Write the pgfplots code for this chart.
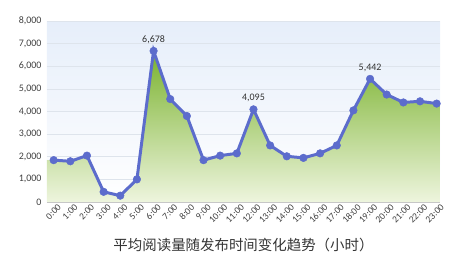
\documentclass[border=0pt]{standalone}
\usepackage{pgfplots}
\pgfplotsset{compat=1.18}
\usepackage{fontspec}
\setmainfont{Carlito}
\newfontfamily\cjk{Noto Sans CJK SC}
\definecolor{linec}{RGB}{92,108,204}
\definecolor{greentop}{RGB}{122,178,46}
\definecolor{greenbot}{RGB}{238,245,222}
\definecolor{bgtop}{RGB}{230,238,250}
\definecolor{gridc}{RGB}{222,228,236}
\begin{document}
\begin{tikzpicture}
\begin{axis}[
  scale only axis, width=393bp, height=181bp,
  xmin=-0.4, xmax=23.2, ymin=0, ymax=8000,
  axis line style={draw=none},
  major tick length=0,
  xtick={0,...,23},
  xticklabels={0:00,1:00,2:00,3:00,4:00,5:00,6:00,7:00,8:00,9:00,10:00,11:00,12:00,13:00,14:00,15:00,16:00,17:00,18:00,19:00,20:00,21:00,22:00,23:00},
  x tick label style={rotate=45, anchor=north east, font=\fontsize{9.5}{10}\selectfont, color=black!75, inner sep=0.5pt, xshift=2bp, yshift=-3bp},
  ytick={0,1000,...,8000},
  y tick label style={font=\fontsize{10}{10}\selectfont, color=black!75, xshift=-2bp},
  yticklabel style={/pgf/number format/.cd, 1000 sep={,}, assume math mode=true},
  ymajorgrids, grid style={gridc, line width=0.6pt},
  axis background/.style={top color=bgtop, bottom color=white},
  xlabel={平均阅读量随发布时间变化趋势（小时）},
  xlabel style={font=\cjk\fontsize{14.5}{15}\selectfont, color=black!80, yshift=-10bp},
  clip=false,
]
\addplot[draw=none, top color=greentop, bottom color=greenbot, forget plot]
 coordinates {(-0.4,1850)(0,1850)(1,1800)(2,2050)(3,450)(4,280)(5,1000)(6,6678)(7,4550)(8,3800)(9,1850)(10,2050)(11,2150)(12,4095)(13,2500)(14,2020)(15,1950)(16,2150)(17,2500)(18,4050)(19,5442)(20,4750)(21,4400)(22,4450)(23,4350)(23.2,4350)} \closedcycle;
\draw[black!22, line width=0.8pt] (axis cs:-0.4,0) -- (axis cs:23.2,0);
\addplot[linec, line width=3pt, mark=*, mark size=3.8pt, mark options={fill=linec, draw=linec, line width=0.5pt}]
 coordinates {(0,1850)(1,1800)(2,2050)(3,450)(4,280)(5,1000)(6,6678)(7,4550)(8,3800)(9,1850)(10,2050)(11,2150)(12,4095)(13,2500)(14,2020)(15,1950)(16,2150)(17,2500)(18,4050)(19,5442)(20,4750)(21,4400)(22,4450)(23,4350)};
\addplot[draw=none, mark=none, nodes near coords, point meta=explicit symbolic,
  every node near coord/.append style={font=\fontsize{10}{10}\selectfont, color=black!80, anchor=south, yshift=4bp}]
 coordinates {(6,6678)[6,678] (12,4095)[4,095] (19,5442)[5,442]};
\path (rel axis cs:0,0) ++(-47bp,-66bp) rectangle (rel axis cs:1,1) ++(15bp,21bp);
\end{axis}
\end{tikzpicture}
\end{document}
